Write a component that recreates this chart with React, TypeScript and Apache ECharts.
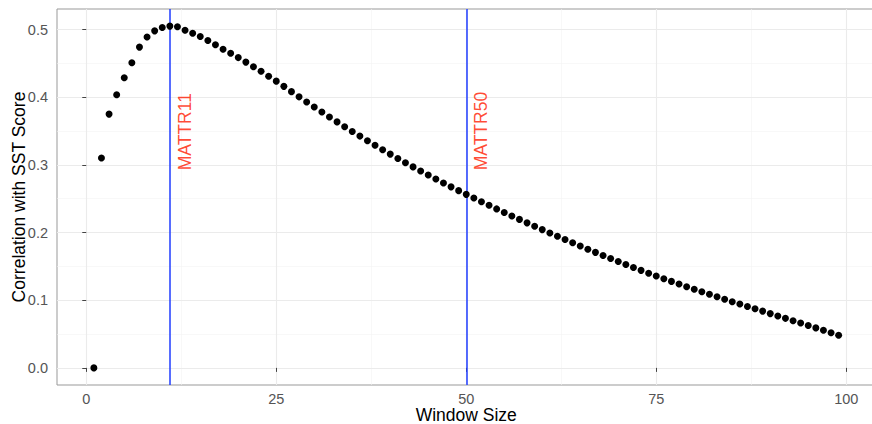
import React, { useEffect, useRef } from "react";
import * as echarts from "echarts";

const windowSizes: number[] = Array.from({ length: 99 }, (_, i) => i + 1);

const correlations: number[] = [
  0.0, 0.31, 0.375, 0.4035, 0.4286, 0.451, 0.474, 0.489, 0.498, 0.503,
  0.505, 0.504, 0.499, 0.4945, 0.4896, 0.4838, 0.4775, 0.4708, 0.4648, 0.4585,
  0.4518, 0.445, 0.4384, 0.431, 0.4237, 0.416, 0.4082, 0.4005, 0.3929, 0.3854,
  0.378, 0.3707, 0.3635, 0.3564, 0.3494, 0.3425, 0.3357, 0.329, 0.3224, 0.3159,
  0.3095, 0.3032, 0.297, 0.2909, 0.2849, 0.279, 0.2732, 0.2675, 0.2619, 0.2564,
  0.2509, 0.2455, 0.2402, 0.2349, 0.2297, 0.2245, 0.2194, 0.2143, 0.2093, 0.2043,
  0.1994, 0.1945, 0.1897, 0.1849, 0.1801, 0.1754, 0.1707, 0.1661, 0.1616, 0.1571,
  0.1527, 0.1484, 0.1441, 0.1399, 0.1358, 0.1318, 0.1278, 0.1239, 0.12, 0.1162,
  0.1124, 0.1087, 0.105, 0.1014, 0.0978, 0.0943, 0.0908, 0.0873, 0.0839, 0.0802,
  0.0767, 0.0732, 0.0697, 0.0662, 0.0627, 0.0591, 0.0555, 0.0519, 0.0483,
];

const refLineX: number[] = [11, 50];
const refLabels: string[] = ["MATTR11", "MATTR50"];
const refLabelX: number[] = [13, 52];
const refLabelY: number[] = [0.292, 0.292];

const xMajorTicks: number[] = [0, 25, 50, 75, 100];
const xMinorTicks: number[] = [12.5, 37.5, 62.5, 87.5];
const yMajorTicks: number[] = [0, 0.1, 0.2, 0.3, 0.4, 0.5];
const yMinorTicks: number[] = [0.05, 0.15, 0.25, 0.35, 0.45];

const FONT = "'Liberation Sans', Arial, Helvetica, sans-serif";

export default function App() {
  const ref = useRef<HTMLDivElement>(null);

  useEffect(() => {
    if (!ref.current) return;
    const chart = echarts.init(ref.current, undefined, { renderer: "svg" });

    const points = windowSizes.map((x, i) => [x, correlations[i]]);

    const majorStyle = { color: "#EBEBEB", width: 1.1, type: "solid" as const };
    const minorStyle = { color: "#F4F4F4", width: 0.6, type: "solid" as const };

    const gridLines = [
      ...xMinorTicks.map((v) => ({ xAxis: v, lineStyle: minorStyle })),
      ...yMinorTicks.map((v) => ({ yAxis: v, lineStyle: minorStyle })),
      ...xMajorTicks.map((v) => ({ xAxis: v, lineStyle: majorStyle })),
      ...yMajorTicks.map((v) => ({ yAxis: v, lineStyle: majorStyle })),
    ];

    chart.setOption({
      animation: false,
      backgroundColor: "#ffffff",
      textStyle: { fontFamily: FONT },
      grid: {
        left: 57,
        top: 9,
        width: 818.5,
        height: 376,
        show: true,
        borderColor: "#999999",
        borderWidth: 1,
        backgroundColor: "transparent",
        containLabel: false,
        outerBoundsMode: "none",
      },
      xAxis: {
        type: "value",
        min: -3.85,
        max: 103.85,
        name: "Window Size",
        nameLocation: "middle",
        nameGap: 21,
        nameMoveOverlap: false,
        nameTextStyle: { fontSize: 17.5, lineHeight: 18, color: "#000", fontFamily: FONT },
        axisLine: { show: false },
        splitLine: { show: false },
        axisTick: {
          show: true,
          customValues: xMajorTicks,
          length: 4,
          lineStyle: { color: "#444", width: 1 },
        },
        axisLabel: {
          customValues: xMajorTicks,
          margin: 6,
          fontSize: 14.5,
          lineHeight: 15,
          color: "#555",
          fontFamily: FONT,
        },
      },
      yAxis: {
        type: "value",
        min: -0.0253,
        max: 0.5303,
        name: "Correlation with SST Score",
        nameLocation: "middle",
        nameGap: 29,
        nameMoveOverlap: false,
        nameTextStyle: { fontSize: 17.5, color: "#000", fontFamily: FONT },
        axisLine: { show: false },
        splitLine: { show: false },
        axisTick: {
          show: true,
          customValues: yMajorTicks,
          length: 4,
          lineStyle: { color: "#444", width: 1 },
        },
        axisLabel: {
          customValues: yMajorTicks,
          margin: 9,
          fontSize: 14.5,
          color: "#555",
          fontFamily: FONT,
          formatter: (v: number) => v.toFixed(1),
        },
      },
      series: [
        {
          type: "scatter",
          name: "grid",
          data: points,
          symbolSize: 0,
          z: 0,
          silent: true,
          markLine: {
            silent: true,
            z: 0,
            symbol: ["none", "none"],
            label: { show: false },
            data: gridLines,
          },
        },
        {
          type: "scatter",
          name: "correlation",
          data: points,
          symbol: "circle",
          symbolSize: 7,
          itemStyle: { color: "#000000", opacity: 1 },
          z: 3,
          markLine: {
            silent: true,
            z: 2,
            symbol: ["none", "none"],
            label: { show: false },
            lineStyle: { color: "#1f3dff", width: 1.5, type: "solid" },
            data: refLineX.map((v) => ({ xAxis: v })),
          },
        },
        {
          type: "scatter",
          name: "labels",
          data: refLabelX.map((x, i) => [x, refLabelY[i], refLabels[i]]),
          symbolSize: 0,
          z: 4,
          label: {
            show: true,
            position: "inside",
            rotate: 90,
            align: "left",
            verticalAlign: "middle",
            fontSize: 17.5,
            color: "#FF1a00",
            fontFamily: FONT,
            formatter: (p: any) => p.data[2],
          },
        },
      ],
    });

    return () => chart.dispose();
  }, []);

  return (
    <div
      ref={ref}
      style={{ position: "absolute", left: 0, top: 0, width: 872, height: 424 }}
    />
  );
}
